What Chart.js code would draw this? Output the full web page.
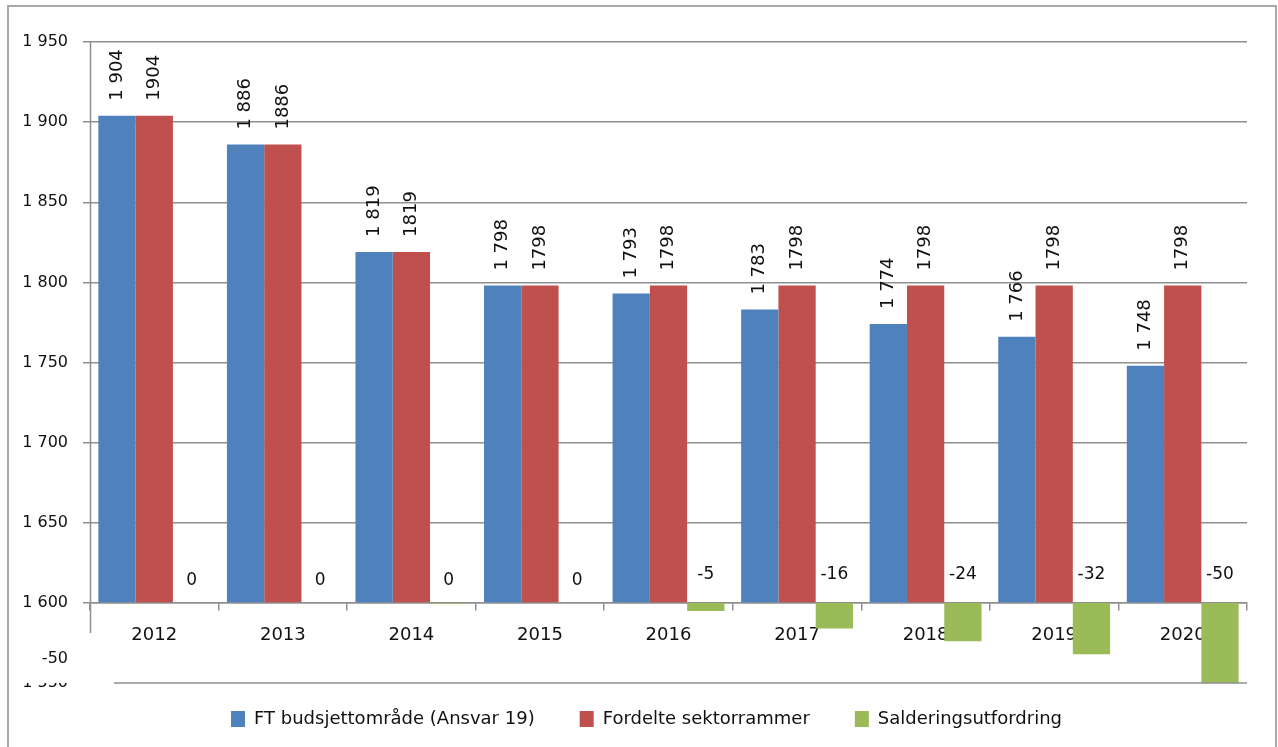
<!DOCTYPE html>
<html>
<head>
<meta charset="utf-8">
<script src="https://cdn.jsdelivr.net/npm/chart.js@4"></script>
<style>
html,body{margin:0;padding:0;background:#fff;}
#wrap{width:1278px;height:747px;position:relative;}
</style>
</head>
<body>
<div id="wrap"><canvas id="c" width="1278" height="747"></canvas></div>
<script>
const categories = ['2012','2013','2014','2015','2016','2017','2018','2019','2020'];
const ftBudsjett = [1904, 1886, 1819, 1798, 1793, 1783, 1774, 1766, 1748];
const fordelte = [1904, 1886, 1819, 1798, 1798, 1798, 1798, 1798, 1798];
const saldering = [0, 0, -0.4, 0, -5, -16, -24, -32, -50];
const seriesNames = ['FT budsjettområde (Ansvar 19)', 'Fordelte sektorrammer', 'Salderingsutfordring'];
const yTicks = [1550, 1600, 1650, 1700, 1750, 1800, 1850, 1900, 1950];

const FONT = '"DejaVu Sans", Verdana, sans-serif';
const GRID = '#8f8f8f';

function spaced(v){
  const s = String(Math.round(v));
  return s.length > 3 ? s.slice(0, s.length-3) + ' ' + s.slice(-3) : s;
}

const decor = {
  id: 'decor',
  beforeDraw(chart){
    const ctx = chart.ctx;
    ctx.save();
    ctx.fillStyle = '#fff';
    ctx.fillRect(0,0,chart.width,chart.height);
    ctx.strokeStyle = '#a8a8a8';
    ctx.lineWidth = 2;
    ctx.strokeRect(8, 6, 1268, 800);
    ctx.restore();
  },
  afterDraw(chart){
    const ctx = chart.ctx;
    const y = chart.scales.y, a = chart.chartArea;
    ctx.save();
    ctx.strokeStyle = GRID;
    ctx.lineWidth = 1.5;
    ctx.beginPath();
    ctx.moveTo(a.left + 0.5, y.getPixelForValue(1950));
    ctx.lineTo(a.left + 0.5, y.getPixelForValue(1600) + 30);
    ctx.stroke();
    ctx.beginPath();
    ctx.moveTo(a.left + 24, y.getPixelForValue(1550));
    ctx.lineTo(a.right, y.getPixelForValue(1550));
    ctx.stroke();
    ctx.fillStyle = '#111';
    ctx.font = '16px ' + FONT;
    ctx.textAlign = 'right';
    ctx.textBaseline = 'middle';
    ctx.fillText('-50', 68, y.getPixelForValue(1565));
    ctx.beginPath();
    ctx.rect(0, y.getPixelForValue(1550), 80, 20);
    ctx.clip();
    ctx.fillText(spaced(1550), 68, y.getPixelForValue(1550));
    ctx.restore();
  },
  afterDatasetsDraw(chart){
    const ctx = chart.ctx;
    ctx.save();
    ctx.font = '18px ' + FONT;
    ctx.fillStyle = '#111';
    [0,1].forEach(di => {
      const meta = chart.getDatasetMeta(di);
      const data = chart.data.datasets[di].data;
      meta.data.forEach((bar, i) => {
        const txt = di === 0 ? spaced(data[i]) : String(data[i]);
        ctx.save();
        ctx.translate(bar.x, bar.y - 15);
        ctx.rotate(-Math.PI/2);
        ctx.textAlign = 'left';
        ctx.textBaseline = 'middle';
        ctx.fillText(txt, 0, 0);
        ctx.restore();
      });
    });
    ctx.font = '17px ' + FONT;
    const gm = chart.getDatasetMeta(2);
    const base = chart.scales.y2.getPixelForValue(0);
    gm.data.forEach((bar, i) => {
      let r = Math.round(saldering[i]);
      if (r === 0) r = 0;
      ctx.textAlign = 'center';
      ctx.textBaseline = 'middle';
      ctx.fillText(String(r), bar.x, base - (r === 0 ? 22 : 28));
    });
    ctx.restore();
  },
  afterLayout(chart){
    const lg = chart.legend;
    if (lg){ lg.top -= 18; lg.bottom -= 18; lg.left += 23; lg.right += 23; }
  }
};

new Chart(document.getElementById('c'), {
  type: 'bar',
  data: {
    labels: categories,
    datasets: [
      { label: seriesNames[0], data: ftBudsjett, backgroundColor: '#4F81BD', yAxisID: 'y', base: 1600 },
      { label: seriesNames[1], data: fordelte, backgroundColor: '#C0504D', yAxisID: 'y', base: 1600 },
      { label: seriesNames[2], data: saldering, backgroundColor: '#9BBB59', yAxisID: 'y2' }
    ]
  },
  options: {
    responsive: false,
    animation: false,
    devicePixelRatio: 1,
    categoryPercentage: 0.87,
    barPercentage: 1.0,
    layout: { padding: { left: 0, right: 31, top: 42, bottom: -9 } },
    plugins: {
      legend: {
        position: 'bottom',
        labels: {
          boxWidth: 14, boxHeight: 16, padding: 45, color: '#111',
          font: { family: FONT, size: 18 }
        }
      },
      tooltip: { enabled: false }
    },
    scales: {
      x: {
        position: { y: 1600 },
        offset: true,
        grid: { display: true, drawOnChartArea: false, drawTicks: true, tickLength: 7, color: GRID, lineWidth: 1.5, offset: true },
        border: { display: true, color: GRID, width: 1.5 },
        ticks: { color: '#111', font: { family: FONT, size: 18 }, padding: 15, maxRotation: 0 }
      },
      y: {
        min: 1550, max: 1950,
        afterFit(s){ s.width = 90; },
        afterBuildTicks(s){ s.ticks = yTicks.map(v => ({ value: v })); },
        grid: {
          color: c => (c.tick && c.tick.value === 1550) ? 'rgba(0,0,0,0)' : GRID,
          lineWidth: 1.5, tickLength: 7
        },
        border: { display: false },
        ticks: {
          color: '#111', font: { family: FONT, size: 16 }, padding: 15,
          callback: v => v === 1550 ? '' : spaced(v)
        }
      },
      y2: {
        display: false,
        min: -50, max: 350
      }
    }
  },
  plugins: [decor]
});
</script>
</body>
</html>
